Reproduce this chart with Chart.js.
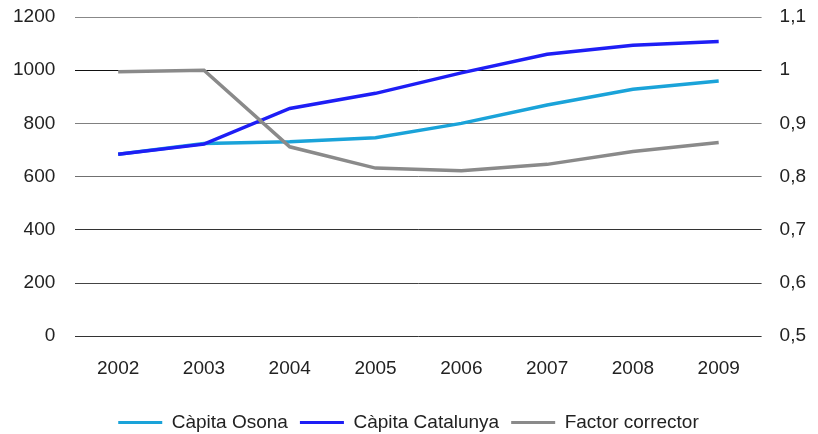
<!DOCTYPE html>
<html>
<head>
<meta charset="utf-8">
<script src="https://cdn.jsdelivr.net/npm/chart.js@4/dist/chart.umd.min.js"></script>
<style>
  html, body { margin: 0; padding: 0; background: #fff; }
  #wrap { width: 818px; height: 434px; position: relative; }
</style>
</head>
<body>
<div id="wrap"><canvas id="chart"></canvas></div>
<script>
// Dades del gràfic
const anys = ['2002', '2003', '2004', '2005', '2006', '2007', '2008', '2009'];
const capitaOsona = [684, 724, 731, 746, 800, 869, 928, 959];
const capitaCatalunya = [684, 722, 856, 913, 990, 1060, 1094, 1108];
const factorCorrector = [0.997, 1.0, 0.856, 0.816, 0.811, 0.823, 0.847, 0.864];

const gridColors = ['#333', '#444', '#333', '#707070', '#808080', '#111', '#888'];

const font = { family: 'Liberation Sans, Arial, sans-serif', size: 19 };

// treu el marge extra que Chart.js reserva per a les etiquetes dels extrems
const noEdgePad = (s) => {
    s.paddingTop = 0;
    s.paddingBottom = 0;
    s.paddingLeft = 0;
    s.paddingRight = 0;
};

const ctx = document.getElementById('chart').getContext('2d');
new Chart(ctx, {
    type: 'line',
    data: {
        labels: anys,
        datasets: [{
            label: 'Càpita Osona',
            data: capitaOsona,
            borderColor: '#1aa3d9',
            backgroundColor: '#1aa3d9',
            borderWidth: 3.5,
            yAxisID: 'y',
            order: 2
        }, {
            label: 'Càpita Catalunya',
            data: capitaCatalunya,
            borderColor: '#1e1ef5',
            backgroundColor: '#1e1ef5',
            borderWidth: 3.5,
            yAxisID: 'y',
            order: 1
        }, {
            label: 'Factor corrector',
            data: factorCorrector,
            borderColor: '#8a8a8a',
            backgroundColor: '#8a8a8a',
            borderWidth: 3.5,
            yAxisID: 'y1',
            order: 0
        }]
    },
    options: {
        responsive: true,
        maintainAspectRatio: false,
        animation: false,
        layout: { padding: { top: 17, left: -7, right: -6, bottom: -8 } },
        elements: {
            point: { radius: 0 },
            line: { tension: 0 }
        },
        scales: {
            x: {
                offset: true,
                afterFit: noEdgePad,
                grid: { display: false, drawTicks: false },
                border: { display: false },
                ticks: { color: '#222', font: font, padding: 21 }
            },
            y: {
                position: 'left',
                min: 0,
                max: 1200,
                afterFit: noEdgePad,
                ticks: {
                    stepSize: 200, color: '#222', font: font, padding: 20,
                    callback: (v) => String(v)
                },
                grid: {
                    drawTicks: false,
                    lineWidth: 1,
                    color: (c) => gridColors[c.index] || '#555'
                },
                border: { display: false }
            },
            y1: {
                position: 'right',
                min: 0.5,
                max: 1.1,
                afterFit: noEdgePad,
                ticks: {
                    stepSize: 0.1,
                    color: '#222',
                    font: font,
                    padding: 18,
                    callback: (v) => String(Math.round(v * 10) / 10).replace('.', ',')
                },
                grid: { display: false, drawTicks: false },
                border: { display: false }
            }
        },
        plugins: {
            legend: {
                position: 'bottom',
                labels: {
                    color: '#222',
                    font: font,
                    boxWidth: 44,
                    boxHeight: 3,
                    padding: 12,
                    sort: (a, b) => a.datasetIndex - b.datasetIndex,
                    generateLabels: (chart) => {
                        const items = Chart.defaults.plugins.legend.labels.generateLabels(chart);
                        items.forEach(it => { it.lineWidth = 0; });
                        return items;
                    }
                }
            },
            tooltip: { enabled: false }
        }
    }
});
</script>
</body>
</html>
